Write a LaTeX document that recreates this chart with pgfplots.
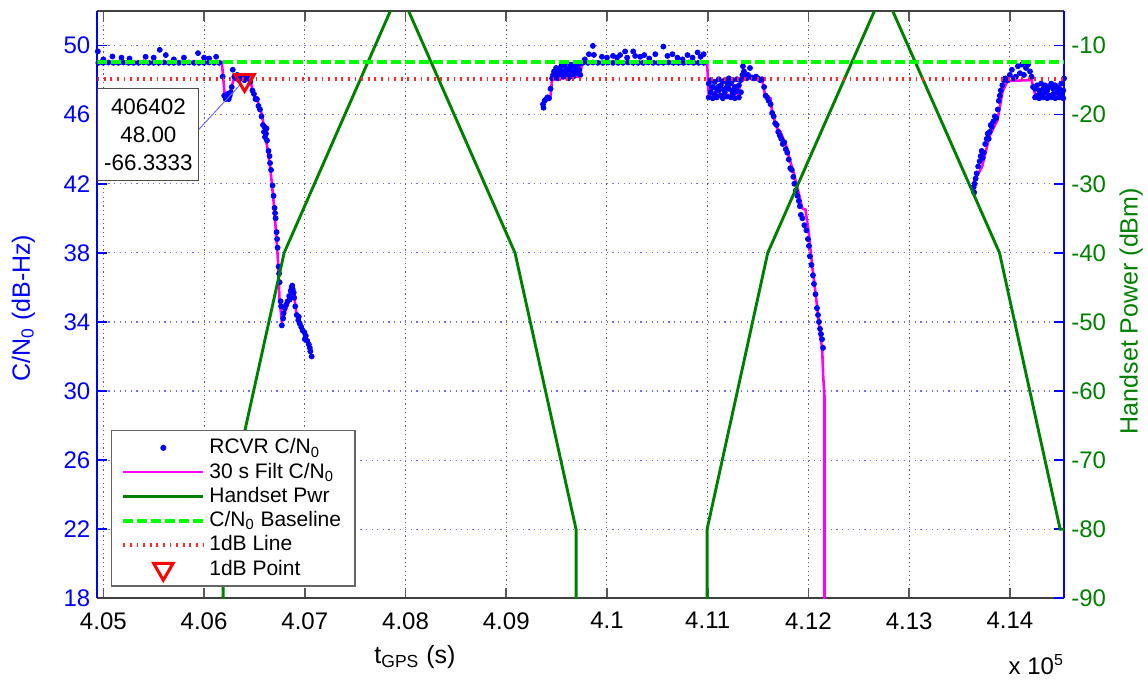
\documentclass[border=0pt]{standalone}
\usepackage{pgfplots}
\pgfplotsset{compat=1.18}
\usepackage{fontspec}
\setmainfont{Liberation Sans}
\definecolor{mblue}{RGB}{0,0,255}
\definecolor{mgreen}{RGB}{0,128,0}
\definecolor{bgreen}{RGB}{0,255,0}
\definecolor{mred}{RGB}{255,0,0}
\definecolor{mmag}{RGB}{255,0,255}
\definecolor{gridblue}{RGB}{110,110,255}
\pgfplotsset{
  mylinelegend/.style={legend image code/.code={\draw[##1] (0pt,0pt) -- (40pt,0pt);}},
  mymarklegend/.style={legend image code/.code={\draw[##1] plot coordinates {(20pt,0pt)};}},
  baseaxis/.style={
    scale only axis, width=483.5pt, height=293.65pt,
    xmin=404940, xmax=414540,
    at={(0pt,0pt)}, anchor=south west,
    scaled x ticks=false,
  },
}
\begin{document}
\begin{tikzpicture}
% ---------------- left axis: C/N0 ----------------
\begin{axis}[baseaxis, ymin=18, ymax=52,
  separate axis lines,
  x axis line style={draw=black!75, line width=0.8pt},
  y axis line style={draw=mblue, line width=0.8pt},
  xtick={405000,406000,407000,408000,409000,410000,411000,412000,413000,414000},
  xticklabels={4.05,4.06,4.07,4.08,4.09,4.1,4.11,4.12,4.13,4.14},
  ytick={18,22,26,30,34,38,42,46,50},
  yticklabels={18,22,26,30,34,38,42,46,50},
  ytick pos=left, xtick pos=both,
  tick align=inside, major tick length=5pt,
  xtick style={draw=black!65, line width=0.8pt},
  ytick style={draw=mblue, line width=0.8pt},
  xticklabel style={font=\fontsize{12}{14}\selectfont, black, yshift=-3.5pt},
  yticklabel style={font=\fontsize{12}{14}\selectfont, mblue},
  xmajorgrids, ymajorgrids,
  major x grid style={draw=black!60, line width=0.5pt, dash pattern=on 0.6pt off 1.6pt},
  major y grid style={draw=gridblue, line width=0.6pt, dash pattern=on 0.6pt off 2.2pt},
  xlabel={t\textsubscript{GPS} (s)},
  xlabel style={at={(rel axis cs:0.3285,0)}, anchor=base, yshift=-32.4pt, font=\fontsize{12.5}{14}\selectfont},
  ylabel={C/N\textsubscript{0} (dB-Hz)},
  ylabel style={at={([xshift=-37pt]rel axis cs:0,0.494)}, anchor=center, mblue, font=\fontsize{12.5}{14}\selectfont},
]
% receiver C/N0 samples
\addplot[only marks, mark=*, mark size=1.25pt, mblue, forget plot] coordinates {
(404950,49.0) (405000,49.0) (405050,49.02) (405100,49.0) (405150,49.0) (405200,49.02) (405250,49.0) (405300,49.0) (405350,49.0) (405400,49.02) (405450,49.0) (405500,49.0) (405550,49.0) (405600,49.02) (405650,49.0) (405700,49.0) (405750,49.0) (405800,49.0) (405850,49.02) (405900,49.0) (405950,49.0) (406000,49.0) (406050,49.02) (406100,49.0) (406150,49.0)
(404945,49.66) (405000,49.2) (405090,49.37) (405180,49.3) (405260,49.25) (405420,49.35) (405500,49.3) (405560,49.75) (405620,49.45) (405700,49.2) (405800,49.3) (405940,49.56) (406000,49.3) (406050,49.25) (406120,49.35)
(406185,48.2) (406200,47.1) (406215,46.9) (406225,47.0) (406235,47.2) (406245,46.9) (406255,47.1) (406265,47.3) (406275,47.6) (406285,48.6) (406300,48.2) (406315,48.1) (406330,48.3) (406345,48.0) (406360,48.2) (406380,48.1) (406400,48.0) (406420,48.2) (406440,48.1) (406460,47.9)
(406480,47.4) (406495,47.2) (406510,46.9) (406525,46.9) (406540,46.5) (406555,46.3) (406570,45.9) (406585,45.4) (406595,45.0) (406605,44.7) (406615,44.9) (406625,44.5) (406640,43.9) (406655,43.2) (406665,42.8) (406680,41.9) (406690,41.3) (406700,40.6) (406710,40.0) (406720,39.2) (406730,38.3) (406740,37.2) (406750,36.3) (406760,35.2) (406765,34.9) (406772,33.8) (406785,34.2) (406800,34.8) (406815,35.0) (406830,35.2) (406845,35.5) (406860,35.8) (406870,36.0) (406880,35.9) (406890,35.7) (406905,34.9) (406920,34.4) (406935,34.1) (406950,33.9) (406965,33.7) (406980,33.5) (406995,33.4) (407010,33.2) (407025,32.9) (407040,32.7) (407055,32.3) (407068,32.0)
(406620,45.2) (406600,45.3) (406650,43.6) (406705,40.3) (406725,38.8) (406745,36.8) (406790,34.5) (406850,35.3) (406875,36.1) (406895,35.4) (406940,34.3) (407000,33.0) (407050,32.5)
(409365,46.6) (409370,46.4) (409380,46.8) (409395,46.9) (409410,47.0) (409425,46.95) (409440,47.5) (409455,48.1) (409465,48.3) (409475,48.5) (409485,48.2) (409495,48.7) (409505,48.4) (409515,48.1) (409525,48.6) (409535,48.3) (409545,48.8) (409555,48.5) (409565,48.2) (409575,48.9) (409585,48.4) (409595,48.7) (409605,48.3) (409615,48.1) (409625,48.6) (409635,48.9) (409645,48.4) (409655,48.8) (409665,48.2) (409675,48.5) (409685,49.0) (409695,48.7) (409705,48.4) (409715,48.9) (409725,48.6) (409735,48.3) (409745,49.0)
(409760,49.0) (409810,49.0) (409860,49.02) (409910,49.0) (409960,49.0) (410010,49.02) (410060,49.0) (410110,49.0) (410160,49.0) (410210,49.02) (410260,49.0) (410310,49.0) (410360,49.0) (410410,49.02) (410460,49.0) (410510,49.0) (410560,49.0) (410610,49.02) (410660,49.0) (410710,49.0) (410760,49.0) (410810,49.02) (410860,49.0) (410910,49.0) (410960,49.0)
(409780,49.2) (409820,49.5) (409860,49.98) (409870,49.46) (409950,49.35) (410000,49.3) (410060,49.4) (410100,49.3) (410130,49.45) (410180,49.66) (410200,49.3) (410260,49.66) (410280,49.4) (410330,49.35) (410370,49.45) (410420,49.25) (410480,49.5) (410560,49.94) (410600,49.4) (410650,49.5) (410700,49.3) (410750,49.2) (410800,49.45) (410850,49.3) (410900,49.6) (410930,49.35) (410960,49.5)
(411010,47.0) (411010,47.8) (411030,47.3) (411030,48.0) (411050,46.95) (411050,47.6) (411070,47.2) (411070,47.9) (411090,47.0) (411090,47.5) (411110,47.4) (411110,48.05) (411130,47.1) (411130,47.7) (411150,46.95) (411150,47.9) (411170,47.3) (411170,48.0) (411190,47.05) (411190,47.6) (411210,47.5) (411210,48.1) (411230,47.0) (411230,47.8) (411250,47.2) (411250,48.0) (411270,46.95) (411270,47.6) (411290,47.4) (411290,48.05) (411310,47.0) (411310,47.7) (411330,47.3) (411330,48.0) (411100,47.6) (411200,47.8) (411280,47.35) (411040,47.55) (411160,47.45) (411240,47.4)
(411345,48.3) (411350,48.8) (411360,48.5) (411370,48.2) (411385,48.1) (411400,48.3) (411420,48.7) (411440,48.15) (411460,48.1) (411480,48.2) (411500,48.1) (411520,48.0) (411540,48.05)
(411560,47.6) (411575,47.1) (411590,47.0) (411605,46.8) (411625,46.6) (411640,46.1) (411655,45.9) (411670,45.5) (411685,45.4) (411700,45.0) (411715,44.8) (411730,44.6) (411745,44.3) (411760,44.4) (411775,44.0) (411790,43.8) (411805,43.4) (411820,42.9) (411835,42.8) (411850,42.4) (411860,42.0) (411875,41.6) (411890,41.3) (411905,41.0) (411915,40.7) (411925,40.2) (411940,40.0) (411960,39.6) (411980,39.3) (411995,38.8) (412005,38.4) (412015,37.8) (412030,37.3) (412045,36.7) (412055,36.2) (412070,35.6) (412085,34.8) (412095,34.4) (412105,34.0) (412115,33.6) (412125,33.3) (412135,33.0) (412145,32.5)
(413640,41.8) (413645,41.5) (413650,42.0) (413660,42.3) (413670,42.6) (413685,43.0) (413700,43.3) (413710,43.6) (413720,43.9) (413730,43.5) (413740,43.8) (413755,44.3) (413770,44.6) (413780,44.9) (413790,44.6) (413800,45.0) (413810,45.4) (413820,45.3) (413835,45.6) (413850,45.9) (413865,45.8) (413880,46.3) (413890,46.8) (413900,47.1) (413910,47.4) (413925,47.7) (413940,48.0) (413955,48.1) (413975,48.0)
(414000,48.3) (414020,48.6) (414040,48.1) (414060,48.2) (414080,48.8) (414100,48.4) (414120,48.9) (414140,48.3) (414160,48.7) (414180,48.9) (414200,48.5) (414215,48.2)
(414230,47.6) (414250,47.0) (414250,47.5) (414270,47.1) (414270,47.7) (414290,46.95) (414290,47.4) (414310,47.2) (414310,47.8) (414330,47.0) (414330,47.5) (414350,47.3) (414350,47.7) (414370,46.95) (414370,47.4) (414390,47.1) (414390,47.6) (414410,47.0) (414410,47.8) (414430,47.2) (414430,47.5) (414450,46.95) (414450,47.7) (414470,47.3) (414470,47.6) (414490,47.0) (414490,47.5) (414510,47.2) (414510,47.8) (414530,46.95) (414530,47.4) (414538,48.1)
};
% 30 s filtered C/N0
\addplot[mmag, line width=1.3pt, forget plot] coordinates {
(404940,49.05) (406176,49.05) (406209,46.9) (406242,46.85) (406291,48.0) (406341,48.1) (406457,48.0) (406490,47.25) (406540,46.66) (406574,46.0) (406606,44.9) (406656,43.0) (406689,41.06) (406716,39.1) (406738,37.2) (406748,35.4) (406772,34.0) (406805,34.6) (406872,35.66) (406887,35.85) (406921,34.3) (406954,34.0) (406987,33.5) (407037,32.77) (407070,32.2)
};
\addplot[mmag, line width=1.3pt, forget plot] coordinates {
(409365,46.56) (409388,46.95) (409437,46.95) (409454,48.0) (409504,48.05) (409636,48.17) (409735,48.2) (409752,49.05) (410994,49.05) (411010,47.14) (411193,47.14) (411308,47.2) (411325,48.11) (411524,48.05) (411541,48.0) (411573,47.04) (411623,46.95) (411640,46.08) (411690,45.2) (411723,45.0) (411755,44.54) (411789,44.06) (411805,43.57) (411855,42.6) (411904,41.45) (411938,40.58) (411971,40.5) (412004,39.13) (412038,37.2) (412071,35.66) (412120,33.15) (412137,32.38) (412147,30.83) (412160,29.67) (412160,17)
};
\addplot[mmag, line width=1.3pt, forget plot] coordinates {
(413641,42.1) (413725,43.0) (413800,44.8) (413877,45.69) (413928,47.36) (413978,47.95) (414216,48.0) (414250,47.17) (414537,47.07) (414540,48.74)
};
\end{axis}
% ---------------- right axis: handset power ----------------
\begin{axis}[baseaxis, ymin=-90, ymax=-5,
  axis y line*=right, axis x line=none,
  y axis line style={draw=mblue, line width=0.8pt},
  ytick={-90,-80,-70,-60,-50,-40,-30,-20,-10},
  yticklabels={-90,-80,-70,-60,-50,-40,-30,-20,-10},
  tick align=inside, major tick length=5pt,
  ytick style={draw=mblue, line width=0.8pt},
  yticklabel style={font=\fontsize{12}{14}\selectfont, mgreen},
  ylabel={Handset Power (dBm)},
  ylabel style={at={([xshift=33.4pt]rel axis cs:1,0.489)}, anchor=center, mgreen, font=\fontsize{12.5}{14}\selectfont},
]
\addplot[mgreen, line width=1.45pt, forget plot] coordinates {
(406189,-95) (406189,-80) (406795,-40) (407940,-2) (409087,-40) (409693,-80) (409693,-95)
};
\addplot[mgreen, line width=1.45pt, forget plot] coordinates {
(410994,-95) (410994,-80) (411596,-40) (412746,-2) (413897,-40) (414499,-80) (414540,-80)
};
\end{axis}
% ---------------- overlay: baseline, 1 dB line, point, legend ----------------
\begin{axis}[baseaxis, ymin=18, ymax=52, hide axis,
  legend style={at={(0.0139,0.0198)}, anchor=south west, draw=black!60, fill=white,
    font=\fontsize{10.5}{12}\selectfont, cells={anchor=west}, row sep=-1pt,
    inner xsep=5pt, inner ysep=2pt, line width=0.6pt},
]
\addlegendimage{mymarklegend, only marks, mark=*, mark size=1.2pt, mblue}
\addlegendentry{RCVR C/N\textsubscript{0}}
\addlegendimage{mylinelegend, mmag, line width=1.3pt}
\addlegendentry{30 s Filt C/N\textsubscript{0}}
\addlegendimage{mylinelegend, mgreen, line width=1.45pt}
\addlegendentry{Handset Pwr}
\addplot[mylinelegend, bgreen, line width=2pt, dash pattern=on 5pt off 2pt] coordinates {(404940,49.05) (414540,49.05)};
\addlegendentry{C/N\textsubscript{0} Baseline}
\addplot[mylinelegend, mred!85, line width=1.8pt, dash pattern=on 0.9pt off 2.4pt] coordinates {(404940,48.05) (414540,48.05)};
\addlegendentry{1dB Line}
\addplot[mymarklegend, only marks, mark=triangle, mark size=5.6pt, mark options={rotate=180, line width=1.5pt, draw=mred, fill=none}] coordinates {(406402,48.00)};
\addlegendentry{1dB Point}
\draw[gridblue, line width=0.5pt] (axis cs:405944,45.12) -- (axis cs:406375,47.84);
\node[draw=black!70, line width=0.6pt, fill=white, align=center, anchor=west, font=\fontsize{11.2}{14}\selectfont, minimum width=50.5pt, minimum height=46pt, inner sep=2pt] at (axis cs:404940,44.85) {406402\\48.00\\-66.3333};
\end{axis}
\node[anchor=base east, inner sep=0pt, font=\fontsize{12}{14}\selectfont] at (483.5pt,-38pt) {x 10\textsuperscript{5}};
\pgfresetboundingbox
\useasboundingbox (-48.65pt,-41.35pt) rectangle (525.35pt,299.15pt);
\end{tikzpicture}
\end{document}
